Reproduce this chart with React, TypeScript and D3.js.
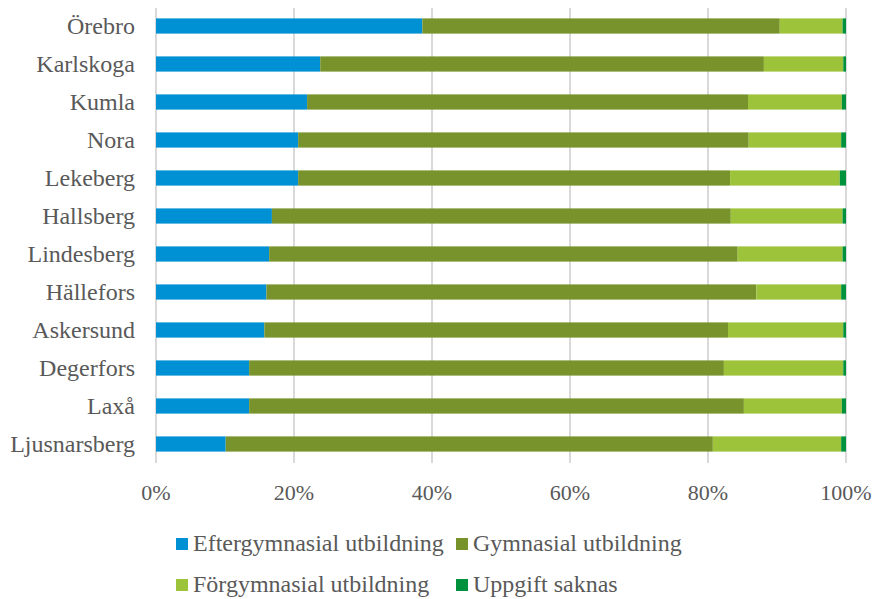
import React from "react";
import * as d3 from "d3";

const categories = ["Örebro", "Karlskoga", "Kumla", "Nora", "Lekeberg", "Hallsberg", "Lindesberg", "Hällefors", "Askersund", "Degerfors", "Laxå", "Ljusnarsberg"];
const eftergymnasial = [38.6, 23.8, 21.9, 20.6, 20.6, 16.8, 16.4, 16.0, 15.7, 13.5, 13.5, 10.1];
const gymnasial = [51.8, 64.3, 63.9, 65.3, 62.6, 66.5, 67.9, 71.0, 67.2, 68.8, 71.7, 70.6];
const forgymnasial = [9.1, 11.5, 13.6, 13.4, 15.9, 16.2, 15.2, 12.3, 16.7, 17.3, 14.2, 18.6];
const uppgiftSaknas = [0.5, 0.4, 0.6, 0.7, 0.9, 0.5, 0.5, 0.7, 0.4, 0.4, 0.6, 0.7];
const seriesNames = ["Eftergymnasial utbildning", "Gymnasial utbildning", "Förgymnasial utbildning", "Uppgift saknas"];
const seriesColors = ["#0091D5", "#78932C", "#9DC33B", "#00913C"];
const xTicks = [0, 20, 40, 60, 80, 100];

export default function App() {
  const width = 875;
  const height = 599;
  const x = d3.scaleLinear().domain([0, 100]).range([156, 846]);
  const y = d3.scaleBand().domain(categories).range([7, 463]).paddingInner(0.6).paddingOuter(0.3);
  const seriesValues = [eftergymnasial, gymnasial, forgymnasial, uppgiftSaknas];
  const rows = categories.map((c, i) => {
    const r: any = { cat: c };
    seriesNames.forEach((s, j) => (r[s] = seriesValues[j][i]));
    return r;
  });
  const stacked = d3.stack().keys(seriesNames)(rows);
  const font = "'Liberation Serif', 'Times New Roman', serif";
  const textColor = "#595959";
  const legendPos = [
    { x: 176, y: 544 },
    { x: 456, y: 544 },
    { x: 176, y: 585 },
    { x: 456, y: 585 },
  ];
  return (
    <svg width={width} height={height} style={{ position: "absolute", left: 0, top: 0, background: "#fff" }}>
      {xTicks.map((t) => (
        <line key={t} x1={x(t)} x2={x(t)} y1={8} y2={463} stroke="#D9D9D9" strokeWidth={2} />
      ))}
      {stacked.map((s, j) => (
        <g key={s.key} fill={seriesColors[j]}>
          {s.map((d, i) => (
            <rect
              key={i}
              x={x(d[0])}
              y={y(categories[i])!}
              width={Math.max(0, x(Math.min(d[1], 100)) - x(d[0]))}
              height={y.bandwidth()}
            />
          ))}
        </g>
      ))}
      {categories.map((c) => (
        <text key={c} x={135} y={y(c)! + y.bandwidth() / 2 + 8} textAnchor="end" fontFamily={font} fontSize={24} fill={textColor}>
          {c}
        </text>
      ))}
      {xTicks.map((t) => (
        <text key={t} x={x(t)} y={500} textAnchor="middle" fontFamily={font} fontSize={22} fill={textColor}>
          {t}%
        </text>
      ))}
      {seriesNames.map((s, j) => (
        <g key={s}>
          <rect x={legendPos[j].x} y={legendPos[j].y - 6} width={12} height={12} fill={seriesColors[j]} />
          <text x={legendPos[j].x + 17} y={legendPos[j].y + 7} fontFamily={font} fontSize={24} fill={textColor}>
            {s}
          </text>
        </g>
      ))}
    </svg>
  );
}
